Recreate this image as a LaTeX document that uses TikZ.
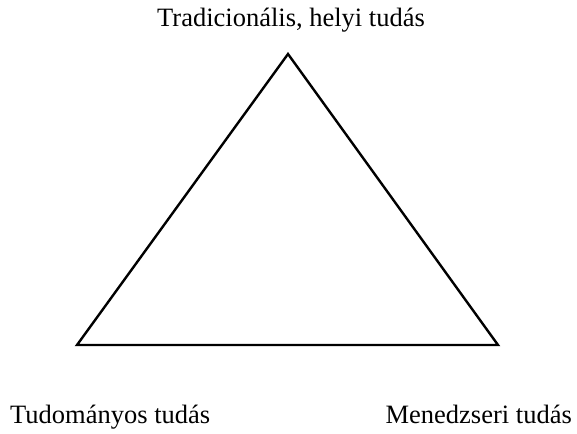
\documentclass[tikz,border=0pt]{standalone}
\usepackage{fontspec}
\setmainfont{Liberation Serif}
\begin{document}
\begin{tikzpicture}[x=1pt,y=-1pt,
  lbl/.style={font=\fontsize{26.5}{31}\selectfont, inner sep=0pt},
  edge/.style={line width=2.4pt, line join=miter}]
\useasboundingbox (0,0) rectangle (577,433);
\coordinate (top) at (288,54);
\coordinate (bl) at (77,345);
\coordinate (br) at (498,345);
\draw[edge] (top) -- (br) -- (bl) -- cycle;
\node[lbl, anchor=base] (t) at (291,27) {Tradicionális, helyi tudás};
\node[lbl, anchor=base west] (l) at (10,423) {Tudományos tudás};
\node[lbl, anchor=base east] (r) at (572,423) {Menedzseri tudás};
\end{tikzpicture}
\end{document}
